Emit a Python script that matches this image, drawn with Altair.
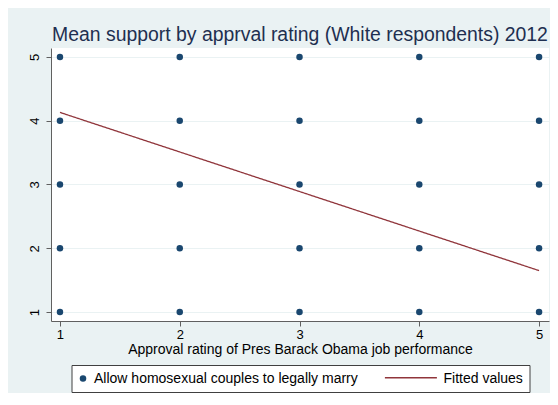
import altair as alt
import pandas as pd

# Data
approval = [1, 2, 3, 4, 5]
support = [1, 2, 3, 4, 5]
fit_x = [1, 5]
fit_y = [4.13, 1.65]

S1 = "Allow homosexual couples to legally marry"
S2 = "Fitted values"

pts = pd.DataFrame([(a, s, S1) for a in approval for s in support],
                   columns=["approval", "support", "pt_series"])
fit = pd.DataFrame({"approval": fit_x, "support": fit_y, "ln_series": [S2, S2]})

NAVY = "#1a476f"
MAROON = "#90353b"
BG = "#eaf2f3"
FONT = "Liberation Sans"

xscale = alt.Scale(domain=[0.925, 5.083], nice=False, zero=False)
yscale = alt.Scale(domain=[0.86, 5.14], nice=False, zero=False)

xaxis = alt.Axis(values=approval, format="d", grid=False,
                 title="Approval rating of Pres Barack Obama job performance",
                 labelFontSize=13, titleFontSize=14, labelPadding=2, titlePadding=1,
                 tickSize=5, domainColor="#606060", tickColor="#606060", labelColor="black",
                 titleColor="black", titleFontWeight="normal", labelFont=FONT, titleFont=FONT)
yaxis = alt.Axis(values=support, format="d", grid=True, gridColor=BG, gridWidth=1.2, title=None,
                 labelFontSize=13, labelAngle=270, labelAlign="center", labelBaseline="bottom",
                 labelPadding=5, tickSize=5, domainColor="#606060", tickColor="#606060",
                 labelColor="black", labelFont=FONT)

# Legend box (points entry + "Fitted values" text as right-side title)
color = alt.Color("pt_series:N", scale=alt.Scale(domain=[S1], range=[NAVY]),
                  legend=alt.Legend(title=S2, titleOrient="right", titleFontSize=14,
                                    titleFont=FONT, titleColor="black", titleFontWeight="normal",
                                    titleBaseline="middle", titlePadding=85.5, titleLimit=300,
                                    orient="none", legendX=20.5, legendY=317,
                                    fillColor="white", strokeColor="#404040", padding=6.5,
                                    labelFontSize=14, labelFont=FONT, labelColor="black",
                                    labelLimit=400, labelOffset=4, symbolOffset=-2,
                                    symbolType="circle", symbolSize=42, symbolStrokeWidth=0,
                                    zindex=0))

# Line symbol of the legend, drawn on top of the box
dash = alt.StrokeDash("ln_series:N", scale=alt.Scale(domain=[S2], range=[[1, 0]]),
                      legend=alt.Legend(title=None, orient="none", legendX=332.9, legendY=302.7,
                                        padding=0, labelExpr="''", labelOffset=0,
                                        symbolType="stroke", symbolSize=2704,
                                        symbolStrokeWidth=1.5, symbolStrokeColor=MAROON,
                                        zindex=1))

points = alt.Chart(pts).mark_point(filled=True, size=42, opacity=1).encode(
    x=alt.X("approval:Q", scale=xscale, axis=xaxis),
    y=alt.Y("support:Q", scale=yscale, axis=yaxis),
    color=color,
)

line = alt.Chart(fit).mark_line(strokeWidth=1.3, color=MAROON).encode(
    x=alt.X("approval:Q", scale=xscale),
    y=alt.Y("support:Q", scale=yscale),
    strokeDash=dash,
)

chart = alt.layer(line, points).properties(
    width=498, height=273,
    title=alt.Title("Mean support by apprval rating (White respondents) 2012",
                    fontSize=19.4, font=FONT, color="#1e2f50", fontWeight="normal",
                    anchor="middle", offset=3),
    background=BG,
    padding={"left": 43, "top": 40, "right": 1, "bottom": 72},
    autosize=alt.AutoSizeParams(type="none"),
).configure_view(fill="white", stroke=None)

chart.save("out.html", embed_options={"renderer": "svg", "actions": False})
